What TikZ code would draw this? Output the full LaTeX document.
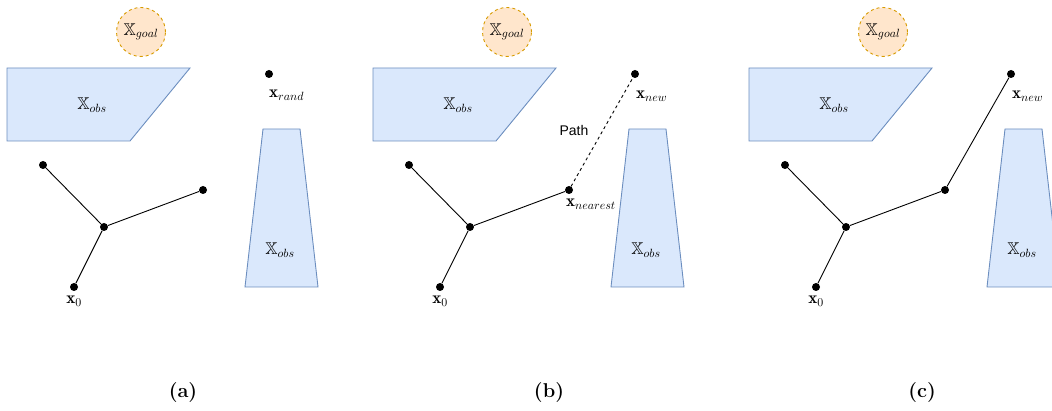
\RequirePackage{fix-cm}
\documentclass[tikz,border=0pt]{standalone}
\usepackage{amsmath,amssymb}
\usepackage{fontspec}
\newfontfamily\pathfont{Liberation Sans}
\usepackage{tikz}
\usetikzlibrary{positioning}
\definecolor{ObsFill}{HTML}{DAE8FC}
\definecolor{ObsLine}{HTML}{6C8EBF}
\definecolor{GoalFill}{HTML}{FFE6CC}
\definecolor{GoalLine}{HTML}{D79B00}

\begin{document}
\begin{tikzpicture}[
    x=1pt, y=-1pt,
    obst/.style={
        draw=ObsLine,
        fill=ObsFill,
        line width=0.9pt,
    },
    goal/.style={
        circle,
        draw=GoalLine,
        fill=GoalFill,
        dashed,
        line width=0.9pt,
        minimum size=49pt,
        inner sep=0pt,
        font=\fontsize{17}{20}\selectfont,
    },
    vert/.style={
        circle,
        fill=black,
        minimum size=8pt,
        inner sep=0pt,
    },
    edge/.style={
        line width=0.9pt,
    },
    lab/.style={
        inner sep=0pt,
        font=\fontsize{17}{20}\selectfont,
    },
    caption/.style={
        inner sep=0pt,
        font=\fontsize{20}{24}\selectfont\bfseries,
    },
]
\useasboundingbox (0,0) rectangle (1052,411);

% pieces shared by the three panels
\foreach \off/\p in {0/a,366/b,742/c}{
\begin{scope}[xshift=\off pt]
\node[goal] (\p-goal) at (141,32) {$\mathbb{X}_{goal}$};

\draw[obst] (7,68) -- (190,68) -- (130,141) -- (7,141) -- cycle;
\node[lab] (\p-obs1) at (92,105) {$\mathbb{X}_{obs}$};

\draw[obst] (263,129) -- (300,129) -- (318,287) -- (245,287) -- cycle;
\node[lab] (\p-obs2) at (280,250) {$\mathbb{X}_{obs}$};

\node[vert] (\p-root) at (104,227) {};
\node[vert] (\p-n1) at (43,165) {};
\node[vert] (\p-n2) at (203,190) {};
\node[vert] (\p-x0) at (74,287) {};
\node[lab] (\p-x0lab) at (74,301) {$\mathbf{x}_0$};

\draw[edge] (\p-root) -- (\p-n1);
\draw[edge] (\p-root) -- (\p-n2);
\draw[edge] (\p-root) -- (\p-x0);
\end{scope}
}

% (a) random sample
\node[vert] (a-rand) at (269,74) {};
\node[lab,anchor=west] (a-randlab) at (269,95) {$\mathbf{x}_{rand}$};

% (b) steering from the nearest vertex
\node[lab,anchor=west] (b-nearlab) at (566,204) {$\mathbf{x}_{nearest}$};
\node[vert] (b-new) at (635,74) {};
\node[lab,anchor=west] (b-newlab) at (636,96) {$\mathbf{x}_{new}$};
\draw[edge,dashed] (b-n2) -- (b-new);
\node[font=\pathfont\fontsize{14}{16}\selectfont,inner sep=0pt] (b-path) at (574,130) {Path};

% (c) new vertex added
\node[vert] (c-new) at (1011,74) {};
\node[lab,anchor=west] (c-newlab) at (1012,96) {$\mathbf{x}_{new}$};
\draw[edge] (c-n2) -- (c-new);

\node[caption] (cap-a) at (183,393) {(a)};
\node[caption] (cap-b) at (549,393) {(b)};
\node[caption] (cap-c) at (922,393) {(c)};
\end{tikzpicture}
\end{document}
